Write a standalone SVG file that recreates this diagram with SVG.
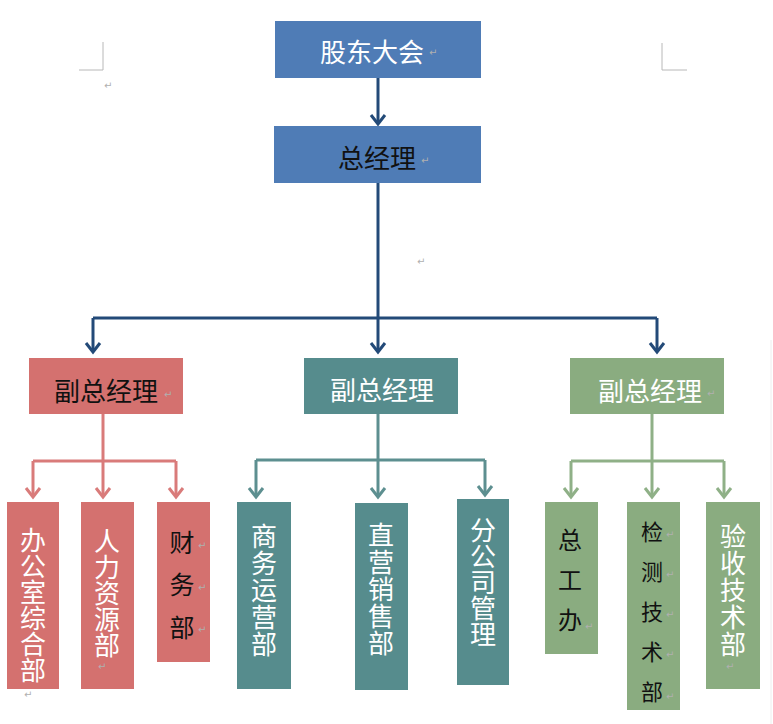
<svg xmlns="http://www.w3.org/2000/svg" width="773" height="724" viewBox="0 0 773 724">
<style>
  text { font-family: "Noto Sans CJK SC", "Noto Sans", sans-serif; }
  .lbl { font-size: 26px; text-anchor: middle; dominant-baseline: central; }
  .v { font-size: 26px; writing-mode: vertical-rl; text-orientation: upright; text-anchor: start; }
  .w { fill: #ffffff; }
  .k { fill: #111111; }
  .pm { font-size: 10px; fill: #b0b0b0; font-family: "DejaVu Sans", sans-serif; }
  .blue { fill: #4f7cb6; }
  .red { fill: #d4716f; }
  .teal { fill: #568c8d; }
  .green { fill: #8aac80; }
  .cb { fill: none; stroke: #234a78; stroke-width: 3; }
  .cr { fill: none; stroke: #d97b7a; stroke-width: 3; }
  .ct { fill: none; stroke: #5d8f90; stroke-width: 3; }
  .cg { fill: none; stroke: #8fb087; stroke-width: 3; }
  .crop { fill: none; stroke: #b8b8b8; stroke-width: 1; }
</style>
<defs>
  <marker id="ab" markerUnits="userSpaceOnUse" markerWidth="20" markerHeight="20" viewBox="-12 -10 14 20" refX="0" refY="0" orient="auto">
    <path d="M-9,-7 L0,0 L-9,7" fill="none" stroke="#234a78" stroke-width="3"/>
  </marker>
  <marker id="ar" markerUnits="userSpaceOnUse" markerWidth="20" markerHeight="20" viewBox="-12 -10 14 20" refX="0" refY="0" orient="auto">
    <path d="M-9,-7 L0,0 L-9,7" fill="none" stroke="#d97b7a" stroke-width="3"/>
  </marker>
  <marker id="at" markerUnits="userSpaceOnUse" markerWidth="20" markerHeight="20" viewBox="-12 -10 14 20" refX="0" refY="0" orient="auto">
    <path d="M-9,-7 L0,0 L-9,7" fill="none" stroke="#5d8f90" stroke-width="3"/>
  </marker>
  <marker id="ag" markerUnits="userSpaceOnUse" markerWidth="20" markerHeight="20" viewBox="-12 -10 14 20" refX="0" refY="0" orient="auto">
    <path d="M-9,-7 L0,0 L-9,7" fill="none" stroke="#8fb087" stroke-width="3"/>
  </marker>
</defs>
<rect width="773" height="724" fill="#ffffff"/>

<g id="page-marks">
  <path class="crop" d="M103,42 V70 H79"/>
  <path class="crop" d="M662,43 V70 H687"/>
  <line x1="771" y1="340" x2="771" y2="724" stroke="#eeeeee" stroke-width="1"/>
  <text class="pm" x="104" y="89">↵</text>
  <text class="pm" x="417" y="265">↵</text>
</g>

<g id="connectors">
  <path class="cb" d="M378,78 V124" marker-end="url(#ab)"/>
  <path class="cb" d="M378,183 V318"/>
  <path class="cb" d="M93,318 H657"/>
  <path class="cb" d="M93,318 V352" marker-end="url(#ab)"/>
  <path class="cb" d="M378,318 V352" marker-end="url(#ab)"/>
  <path class="cb" d="M657,318 V352" marker-end="url(#ab)"/>

  <path class="cr" d="M103,414 V461"/>
  <path class="cr" d="M33,461 H176"/>
  <path class="cr" d="M33,461 V497" marker-end="url(#ar)"/>
  <path class="cr" d="M103,461 V497" marker-end="url(#ar)"/>
  <path class="cr" d="M176,461 V497" marker-end="url(#ar)"/>

  <path class="ct" d="M378,414 V460"/>
  <path class="ct" d="M256,460 H485"/>
  <path class="ct" d="M256,460 V497" marker-end="url(#at)"/>
  <path class="ct" d="M378,460 V497" marker-end="url(#at)"/>
  <path class="ct" d="M485,460 V495" marker-end="url(#at)"/>

  <path class="cg" d="M652,414 V461"/>
  <path class="cg" d="M571,461 H724"/>
  <path class="cg" d="M571,461 V497" marker-end="url(#ag)"/>
  <path class="cg" d="M652,461 V497" marker-end="url(#ag)"/>
  <path class="cg" d="M724,461 V497" marker-end="url(#ag)"/>
</g>

<g id="n-gudong">
  <rect class="blue" x="275" y="21" width="206" height="57"/>
  <text class="lbl w" x="372" y="50">股东大会</text>
  <text class="pm" x="429" y="56">↵</text>
</g>
<g id="n-zongjingli">
  <rect class="blue" x="274" y="126" width="207" height="57"/>
  <text class="lbl k" x="377" y="156">总经理</text>
  <text class="pm" x="421" y="164">↵</text>
</g>

<g id="n-vp1">
  <rect class="red" x="29" y="358" width="154" height="56"/>
  <text class="lbl k" x="106" y="389">副总经理</text>
  <text class="pm" x="164" y="398">↵</text>
</g>
<g id="n-vp2">
  <rect class="teal" x="304" y="358" width="154" height="56"/>
  <text class="lbl w" x="382" y="388">副总经理</text>
</g>
<g id="n-vp3">
  <rect class="green" x="570" y="358" width="154" height="56"/>
  <text class="lbl w" x="650" y="389">副总经理</text>
  <text class="pm" x="707" y="397">↵</text>
</g>

<g id="n-bangongshi">
  <rect class="red" x="7" y="502" width="52" height="187"/>
  <text class="v w" x="33" y="527">办公室综合部</text>
  <text class="pm" x="24" y="698">↵</text>
</g>
<g id="n-renli">
  <rect class="red" x="81" y="502" width="53" height="187"/>
  <text class="v w" x="107" y="528">人力资源部</text>
  <text class="pm" x="98" y="670">↵</text>
</g>
<g id="n-caiwu">
  <rect class="red" x="157" y="502" width="53" height="160"/>
  <text class="v k" x="182" y="529.5" style="font-size:25px;letter-spacing:17.5px">财务部</text>
  <text class="pm" x="198" y="549">↵</text>
  <text class="pm" x="198" y="591">↵</text>
  <text class="pm" x="198" y="633">↵</text>
</g>

<g id="n-shangwu">
  <rect class="teal" x="237" y="502" width="54" height="187"/>
  <text class="v w" x="264" y="523" style="letter-spacing:1px">商务运营部</text>
</g>
<g id="n-zhiying">
  <rect class="teal" x="355" y="503" width="53" height="187"/>
  <text class="v w" x="381" y="522" style="letter-spacing:1px">直营销售部</text>
</g>
<g id="n-fengongsi">
  <rect class="teal" x="457" y="499" width="52" height="186"/>
  <text class="v w" x="483" y="517">分公司管理</text>
</g>

<g id="n-zonggong">
  <rect class="green" x="545" y="502" width="53" height="152"/>
  <text class="v k" x="570" y="528" style="font-size:24px;letter-spacing:16px">总工办</text>
  <text class="pm" x="585" y="630">↵</text>
</g>
<g id="n-jiance">
  <rect class="green" x="627" y="502" width="53" height="208"/>
  <text class="v k" x="652" y="521" style="font-size:22px;letter-spacing:18px">检测技术部</text>
  <text class="pm" x="666" y="538">↵</text>
  <text class="pm" x="666" y="578">↵</text>
  <text class="pm" x="666" y="618">↵</text>
  <text class="pm" x="666" y="658">↵</text>
  <text class="pm" x="666" y="700">↵</text>
</g>
<g id="n-yanshou">
  <rect class="green" x="706" y="502" width="54" height="187"/>
  <text class="v w" x="733" y="523" style="letter-spacing:1px">验收技术部</text>
  <text class="pm" x="726" y="670">↵</text>
</g>
</svg>
